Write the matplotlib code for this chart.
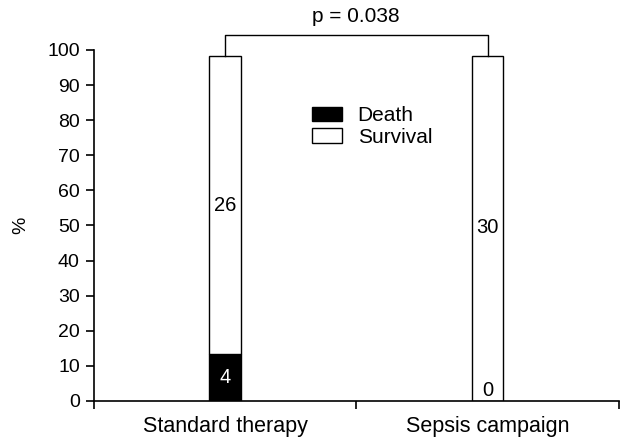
import matplotlib.pyplot as plt

# Data (percent of patients, with counts as labels)
groups = ['Standard therapy', 'Sepsis campaign']
death_pct = [13.3, 0.0]
survival_pct = [85.0, 98.3]
death_n = [4, 0]
survival_n = [26, 30]
death_label_y = [6.8, 3.0]
survival_label_y = [55.8, 49.3]
p_text = 'p = 0.038'

plt.rcParams['font.family'] = ['Liberation Sans', 'DejaVu Sans']

fig = plt.figure(figsize=(6.25, 4.37), dpi=100)
ax = fig.add_axes([0.150, 0.0824, 0.840, 0.8032])

x = [0, 1]
width = 0.12
ax.bar(x, death_pct, width, color='black', edgecolor='black', linewidth=1, label='Death')
ax.bar(x, survival_pct, width, bottom=death_pct, color='white', edgecolor='black',
       linewidth=1, label='Survival')

for i in x:
    ax.text(i, death_label_y[i], str(death_n[i]), ha='center', va='center', fontsize=14.5,
            color='white' if death_pct[i] > 5 else 'black')
    ax.text(i, survival_label_y[i], str(survival_n[i]), ha='center', va='center', fontsize=14.5)

# significance bracket
tops = [d + s for d, s in zip(death_pct, survival_pct)]
bracket_y = 104.3
ax.plot([0, 0, 1, 1], [tops[0], bracket_y, bracket_y, tops[1]], color='black', lw=1,
        clip_on=False)
ax.text(0.5, 109.6, p_text, ha='center', va='center', fontsize=15)

ax.set_xlim(-0.5, 1.5)
ax.set_ylim(0, 100)
ax.set_yticks(range(0, 101, 10))
ax.set_xticks([-0.5, 0.5, 1.5])
ax.set_xticklabels([])
ax.set_xticks(x, minor=True)
ax.set_xticklabels(groups, minor=True)
ax.tick_params(axis='x', which='minor', length=0, pad=11, labelsize=15.5)
ax.tick_params(axis='x', which='major', length=6, width=1.2, direction='out')
ax.tick_params(axis='y', length=6, width=1.2, direction='out', labelsize=14, pad=4)
ax.set_ylabel('%', fontsize=14)
ax.yaxis.set_label_coords(-0.122, 0.5)

for side in ['top', 'right']:
    ax.spines[side].set_visible(False)
for side in ['left', 'bottom']:
    ax.spines[side].set_linewidth(1.2)

ax.legend(loc='center left', bbox_to_anchor=(0.4166, 0.782), frameon=False, fontsize=15,
          borderpad=0, borderaxespad=0, handlelength=1.4, handleheight=0.72,
          handletextpad=0.77, labelspacing=0.12)

fig.savefig('out.png', dpi=100)
